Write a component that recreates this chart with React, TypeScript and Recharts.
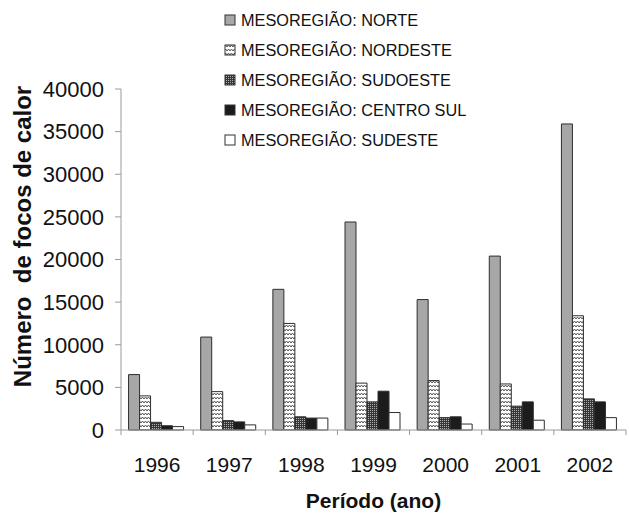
import React from 'react';
import { BarChart, Bar, XAxis, YAxis, Legend, Label } from 'recharts';

const FONT = '"Liberation Sans", Arial, Helvetica, sans-serif';

const categories = ['1996', '1997', '1998', '1999', '2000', '2001', '2002'];
const norte = [6500, 10900, 16500, 24400, 15300, 20400, 35900];
const nordeste = [4000, 4500, 12500, 5500, 5800, 5400, 13400];
const sudoeste = [900, 1100, 1550, 3300, 1450, 2800, 3650];
const centroSul = [500, 950, 1400, 4550, 1550, 3300, 3300];
const sudeste = [400, 600, 1400, 2050, 700, 1150, 1450];
const yTicks = [0, 5000, 10000, 15000, 20000, 25000, 30000, 35000, 40000];
const seriesLabels = [
  'MESOREGIÃO: NORTE',
  'MESOREGIÃO: NORDESTE',
  'MESOREGIÃO: SUDOESTE',
  'MESOREGIÃO: CENTRO SUL',
  'MESOREGIÃO: SUDESTE',
];
const yTitle = 'Número  de focos de calor';
const xTitle = 'Período (ano)';

const data = categories.map((ano, i) => ({
  ano,
  norte: norte[i],
  nordeste: nordeste[i],
  sudoeste: sudoeste[i],
  centroSul: centroSul[i],
  sudeste: sudeste[i],
}));

const series = [
  { key: 'norte', name: seriesLabels[0], fill: '#a7a7a7' },
  { key: 'nordeste', name: seriesLabels[1], fill: 'url(#pNordeste)' },
  { key: 'sudoeste', name: seriesLabels[2], fill: 'url(#pSudoeste)' },
  { key: 'centroSul', name: seriesLabels[3], fill: '#1c1c1c' },
  { key: 'sudeste', name: seriesLabels[4], fill: '#ffffff' },
];

const W = 629;
const H = 515;
const M = { top: 89, right: 3, bottom: 0, left: 0 };
const Y_W = 121;
const X_H = 85;

const XTick = (props: any) => {
  const { x, y, payload, index } = props;
  const bw = (W - M.left - M.right - Y_W) / categories.length;
  const bx = x - bw / 2;
  return (
    <g>
      <line x1={bx} x2={bx} y1={y - 5} y2={y} stroke="#9a9a9a" strokeWidth={1} />
      {index === categories.length - 1 ? (
        <line x1={x + bw / 2} x2={x + bw / 2} y1={y - 5} y2={y} stroke="#9a9a9a" strokeWidth={1} />
      ) : null}
      <text x={x} y={y + 37} textAnchor="middle" fontSize={21} fontFamily={FONT} fill="#111">
        {payload.value}
      </text>
    </g>
  );
};

const renderLegend = () => (
  <div style={{ fontFamily: FONT, fontSize: 16.3, color: '#111', lineHeight: 1 }}>
    {series.map((s) => (
      <div key={s.key} style={{ height: 30, display: 'flex', alignItems: 'center', whiteSpace: 'nowrap' }}>
        <svg width={12} height={12} style={{ marginRight: 5, display: 'block' }}>
          <rect x={1} y={1} width={10} height={10} fill={s.fill} stroke="#333" strokeWidth={1} />
        </svg>
        <span>{s.name}</span>
      </div>
    ))}
  </div>
);

export default function App() {
  return (
    <div style={{ position: 'absolute', left: 0, top: 0, width: W, height: H, background: '#fff' }}>
      <svg width={0} height={0} style={{ position: 'absolute' }}>
        <defs>
          <pattern id="pNordeste" width={6} height={4} patternUnits="userSpaceOnUse">
            <rect width={6} height={4} fill="#ffffff" />
            <path d="M0 3 L1.5 1 L3 3 L4.5 1 L6 3" stroke="#555555" strokeWidth={1} fill="none" />
          </pattern>
          <pattern id="pSudoeste" width={2} height={2} patternUnits="userSpaceOnUse">
            <rect width={2} height={2} fill="#363636" />
            <rect x={0} y={0} width={1} height={1} fill="#b0b0b0" />
          </pattern>
        </defs>
      </svg>
      <BarChart
        width={W}
        height={H}
        data={data}
        margin={M}
        barCategoryGap="10.5%"
        barGap={0}
      >
        <XAxis
          dataKey="ano"
          height={X_H}
          axisLine={{ stroke: '#9a9a9a' }}
          tickLine={false}
          tickSize={5}
          tickMargin={0}
          interval={0}
          tick={<XTick />}
        >
          <Label
            content={(p: any) => {
              const vb = p.viewBox || {};
              return (
                <text
                  x={vb.x + vb.width / 2}
                  y={vb.y + 78}
                  textAnchor="middle"
                  fontSize={21}
                  fontWeight="bold"
                  fontFamily={FONT}
                  fill="#111"
                >
                  {xTitle}
                </text>
              );
            }}
          />
        </XAxis>
        <YAxis
          width={Y_W}
          domain={[0, 40000]}
          ticks={yTicks}
          interval={0}
          axisLine={{ stroke: '#9a9a9a' }}
          tickLine={{ stroke: '#9a9a9a' }}
          tickSize={6}
          tickMargin={11}
          tick={{ fontSize: 22, fontFamily: FONT, fill: '#111' }}
        >
          <Label
            content={(p: any) => {
              const vb = p.viewBox || {};
              const cy = vb.y + vb.height / 2 - 23;
              return (
                <text
                  transform={`translate(22, ${cy}) rotate(-90)`}
                  textAnchor="middle"
                  dominantBaseline="central"
                  fontSize={24}
                  fontWeight="bold"
                  fontFamily={FONT}
                  fill="#111"
                  style={{ whiteSpace: 'pre' }}
                >
                  {yTitle}
                </text>
              );
            }}
          />
        </YAxis>
        <Legend
          layout="vertical"
          align="center"
          verticalAlign="middle"
          content={renderLegend}
          wrapperStyle={{ left: 224, top: 5, width: 300, height: 150 }}
        />
        {series.map((s) => (
          <Bar
            key={s.key}
            dataKey={s.key}
            name={s.name}
            fill={s.fill}
            stroke="#2e2e2e"
            strokeWidth={1}
            isAnimationActive={false}
          />
        ))}
      </BarChart>
    </div>
  );
}
